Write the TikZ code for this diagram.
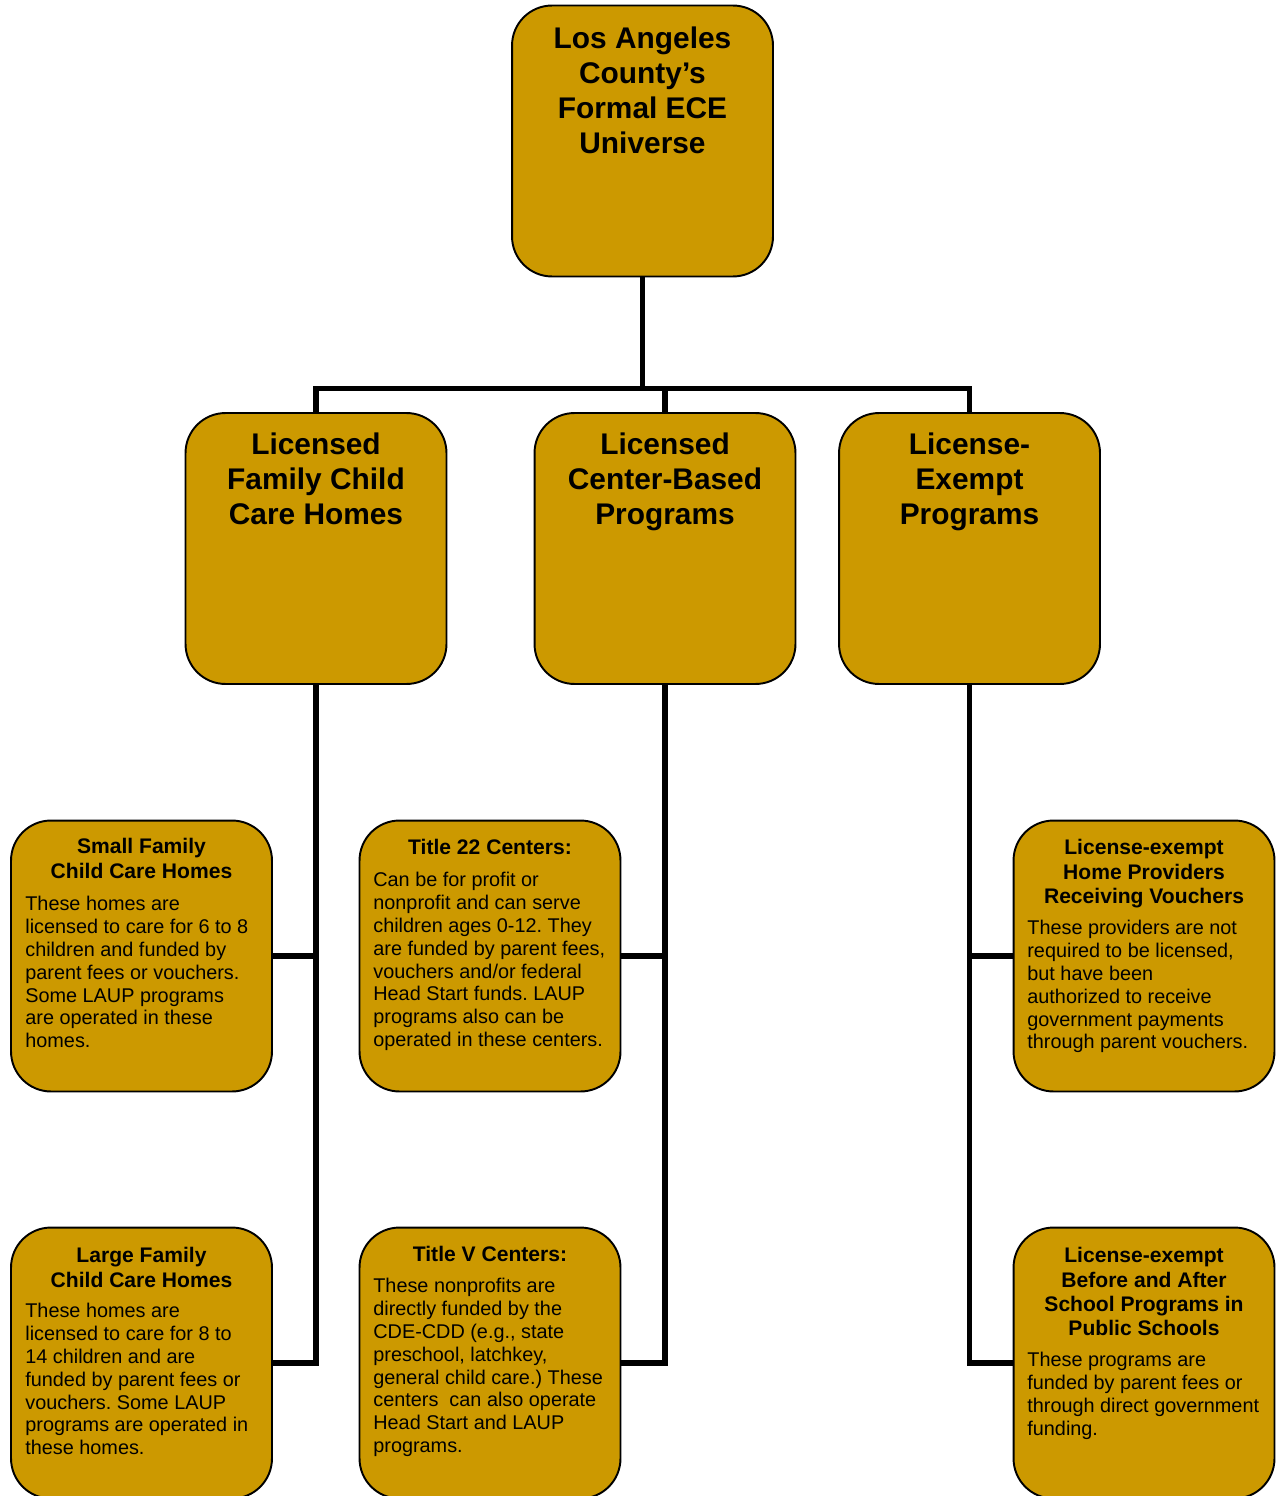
\documentclass[tikz,border=0pt]{standalone}
\usepackage{fontspec}
\setmainfont{Liberation Sans}
\usepackage{tikz}
\usetikzlibrary{positioning}
\definecolor{ecegold}{HTML}{CC9900}
\frenchspacing

\tikzset{
	box/.style={draw=black, fill=ecegold, line width=1.1pt, rounded corners=0.8cm,
		minimum width=5.22cm, minimum height=5.42cm, inner sep=0pt, outer sep=0pt},
	bigtitle/.style={anchor=north, align=center, inner sep=0pt,
		font={\fontsize{17}{19.8}\selectfont\bfseries}},
	subtitle/.style={anchor=north, align=center, inner sep=0pt,
		font={\fontsize{12}{13.9}\selectfont\bfseries}},
	bodytext/.style={anchor=north west, align=left, inner sep=0pt,
		font={\fontsize{11.3}{13}\selectfont}},
	link/.style={line width=3.1pt}
}

\begin{document}
\begin{tikzpicture}[x=0.02cm, y=-0.02cm]
			\useasboundingbox (0,0) rectangle (1275,1496);
			% boxes
			\node[box] (univ) at (642.5,141) {};
			\node[box] (fam) at (316,548.5) {};
			\node[box] (ctr) at (665,548.5) {};
			\node[box] (exm) at (969.5,548.5) {};
			\node[box] (sfam) at (141.5,956) {};
			\node[box] (t22) at (490,956) {};
			\node[box] (vou) at (1144,956) {};
			\node[box] (lfam) at (141.5,1363) {};
			\node[box] (t5) at (490,1363) {};
			\node[box] (sch) at (1144,1363) {};
			% connectors
			\coordinate (bus) at (642.5,388.5);
			\draw[link] (univ.south) -- (bus);
			\draw[link] (fam.north) |- (bus) -| (exm.north);
			\draw[link] (ctr.north) -- (ctr.north |- bus);
			\draw[link] (fam.south) |- (lfam.east);
			\draw[link] (sfam.east) -- (sfam.east -| fam.south);
			\draw[link] (ctr.south) |- (t5.east);
			\draw[link] (t22.east) -- (t22.east -| ctr.south);
			\draw[link] (exm.south) |- (sch.west);
			\draw[link] (vou.west) -- (vou.west -| exm.south);
			% titles
			\node[bigtitle] (univ-t) at (642.5,27) {Los Angeles\\County’s\\Formal ECE\\Universe};
			\node[bigtitle] (fam-t) at (316,433) {Licensed\\Family Child\\Care Homes};
			\node[bigtitle] (ctr-t) at (665,433) {Licensed\\Center-Based\\Programs};
			\node[bigtitle] (exm-t) at (969.5,433) {License-\\Exempt\\Programs};
			\node[subtitle] (sfam-t) at (141.5,838) {Small Family\\Child Care Homes};
			\node[subtitle] (t22-t) at (490,839) {Title 22 Centers:};
			\node[subtitle] (vou-t) at (1144,839) {License-exempt\\Home Providers\\Receiving Vouchers};
			\node[subtitle] (lfam-t) at (141.5,1247) {Large Family\\Child Care Homes};
			\node[subtitle] (t5-t) at (490,1246) {Title V Centers:};
			\node[subtitle] (sch-t) at (1144,1247) {License-exempt\\Before and After\\School Programs in\\Public Schools};
			% descriptions
			\node[bodytext] (sfam-b) at (25,896) {These homes are\\licensed to care for 6 to 8\\children and funded by\\parent fees or vouchers.\\Some LAUP programs\\are operated in these\\homes.};
			\node[bodytext] (t22-b) at (373,872) {Can be for profit or\\nonprofit and can serve\\children ages 0-12. They\\are funded by parent fees,\\vouchers and/or federal\\Head Start funds. LAUP\\programs also can be\\operated in these centers.};
			\node[bodytext] (vou-b) at (1027,920) {These providers are not\\required to be licensed,\\but have been\\authorized to receive\\government payments\\through parent vouchers.};
			\node[bodytext] (lfam-b) at (25,1303) {These homes are\\licensed to care for 8 to\\14 children and are\\funded by parent fees or\\vouchers. Some LAUP\\programs are operated in\\these homes.};
			\node[bodytext] (t5-b) at (373,1278) {These nonprofits are\\directly funded by the\\CDE-CDD (e.g., state\\preschool, latchkey,\\general child care.) These\\centers\ \ can also operate\\Head Start and LAUP\\programs.};
			\node[bodytext] (sch-b) at (1027,1352) {These programs are\\funded by parent fees or\\through direct government\\funding.};
		\end{tikzpicture}
\end{document}
